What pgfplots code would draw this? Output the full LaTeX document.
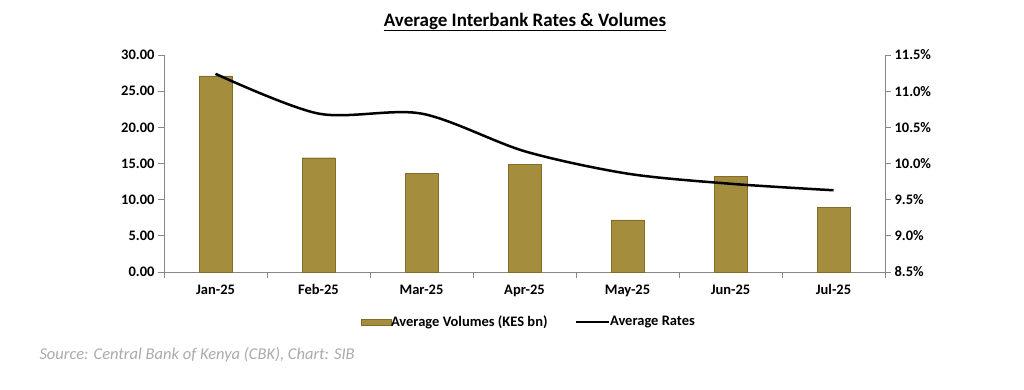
\documentclass[border=0pt]{standalone}
\usepackage{pgfplots}
\pgfplotsset{compat=1.18}
\usepackage{fontspec}
\setmainfont{Carlito}
\definecolor{goldmid}{RGB}{165,141,62}
\definecolor{golddark}{RGB}{130,108,40}
\definecolor{axgray}{RGB}{135,135,135}
\definecolor{srcgray}{RGB}{170,170,170}
\begin{document}
\begin{tikzpicture}[x=1pt,y=1pt]
\path[use as bounding box] (0,0) rectangle (1024,389);
\node[font=\bfseries\fontsize{19}{19}\selectfont] at (525,367) {\underline{Average Interbank Rates \& Volumes}};
\node[anchor=west, font=\itshape\fontsize{16.5}{16.5}\selectfont, text=srcgray] at (36,34) {Source: Central Bank of Kenya (CBK), Chart: SIB};
\begin{axis}[
  at={(164pt,117pt)}, anchor=south west, scale only axis,
  width=721pt, height=217pt,
  xmin=-0.5, xmax=6.5, ymin=0, ymax=30,
  ytick={0,5,...,30},
  axis x line*=bottom, axis y line*=left,
  axis line style={axgray, line width=0.8pt},
  xtick={0,...,6},
  xticklabels={Jan-25,Feb-25,Mar-25,Apr-25,May-25,Jun-25,Jul-25},
  major x tick style={draw=none},
  minor xtick={-0.5,0.5,...,6.5},
  minor x tick style={axgray, line width=0.8pt},
  minor tick length=6pt,
  major tick length=6pt,
  tick align=outside,
  y tick style={axgray, line width=0.8pt},
  ticklabel style={font=\bfseries\fontsize{14.5}{14.5}\selectfont},
  /pgf/number format/assume math mode=true,
  yticklabel style={/pgf/number format/.cd, fixed, fixed zerofill, precision=2},
  xticklabel style={yshift=-3pt},
  ybar, bar width=33pt,
]
\addplot[draw=golddark, line width=0.4pt, fill=goldmid]
  coordinates {(0,27.1) (1,15.8) (2,13.6) (3,14.9) (4,7.2) (5,13.2) (6,8.9)};
\end{axis}
\begin{axis}[
  at={(164pt,117pt)}, anchor=south west, scale only axis,
  width=721pt, height=217pt,
  xmin=-0.5, xmax=6.5, ymin=8.5, ymax=11.5,
  ytick={8.5,9,...,11.5},
  axis x line=none, axis y line*=right,
  axis line style={axgray, line width=0.8pt},
  y tick style={axgray, line width=0.8pt},
  major tick length=6pt, tick align=outside,
  ticklabel style={font=\bfseries\fontsize{14.5}{14.5}\selectfont},
  yticklabel={\pgfmathprintnumber[assume math mode=true,fixed,fixed zerofill,precision=1]{\tick}\%},
  legend style={at={(0.506,-0.23)}, anchor=center, draw=none, fill=none,
    font=\bfseries\fontsize{14.5}{14.5}\selectfont, legend columns=2,
    /tikz/every even column/.append style={column sep=25pt},
    /tikz/every odd column/.append style={column sep=-2pt}},
  legend cell align=left,
]
\addlegendimage{legend image code/.code={\fill[goldmid, draw=golddark, line width=0.3pt] (0pt,-3pt) rectangle (30pt,3pt);}}
\addlegendentry{Average Volumes (KES bn)}
\addplot[black, line width=2.5pt, smooth, mark=none, legend image code/.code={\draw[black, line width=2.5pt] (0pt,0pt) -- (33pt,0pt);}]
  coordinates {(0,11.24) (1,10.69) (2,10.69) (3,10.17) (4,9.86) (5,9.72) (6,9.63)};
\addlegendentry{Average Rates}
\end{axis}
\end{tikzpicture}
\end{document}
